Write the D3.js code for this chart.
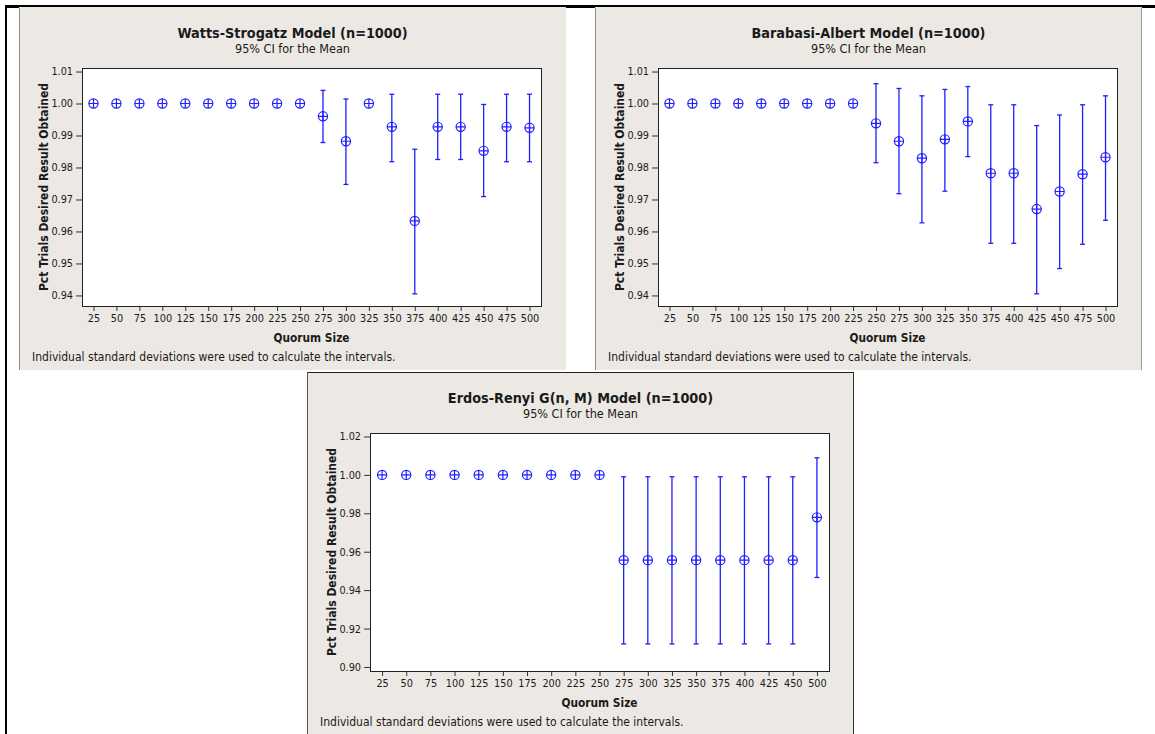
<!DOCTYPE html>
<html>
<head>
<meta charset="utf-8">
<script src="https://cdn.jsdelivr.net/npm/d3@7"></script>
<style>
body { margin: 0; background: #fff; }
svg { display: block; }
text { font-family: "DejaVu Sans Condensed", "DejaVu Sans", sans-serif; fill: #1a1a1a; }
</style>
</head>
<body>
<div id="chart"></div>
<script>
var width = 1155;
var height = 734;

// Quorum sizes on the x axis
var quorumTop = [25, 50, 75, 100, 125, 150, 175, 200, 225, 250, 275, 300, 325, 350, 375, 400, 425, 450, 475, 500];
var quorumER = [25, 50, 75, 100, 125, 150, 175, 200, 225, 250, 275, 300, 325, 350, 375, 400, 425, 450, 500];

// Watts-Strogatz
var wsMean = [1, 1, 1, 1, 1, 1, 1, 1, 1, 1, 0.9960, 0.9882, 1, 0.9927, 0.9633, 0.9927, 0.9927, 0.9852, 0.9927, 0.9924];
var wsLower = [null, null, null, null, null, null, null, null, null, null, 0.9878, 0.9747, null, 0.9818, 0.9405, 0.9825, 0.9825, 0.9709, 0.9818, 0.9818];
var wsUpper = [null, null, null, null, null, null, null, null, null, null, 1.0041, 1.0014, null, 1.0029, 0.9857, 1.0029, 1.0029, 0.9997, 1.0029, 1.0029];

// Barabasi-Albert
var baMean = [1, 1, 1, 1, 1, 1, 1, 1, 1, 0.9938, 0.9882, 0.9829, 0.9888, 0.9944, 0.9782, 0.9782, 0.9670, 0.9725, 0.9779, 0.9832];
var baLower = [null, null, null, null, null, null, null, null, null, 0.9815, 0.9718, 0.9627, 0.9726, 0.9834, 0.9563, 0.9563, 0.9405, 0.9484, 0.9560, 0.9635];
var baUpper = [null, null, null, null, null, null, null, null, null, 1.0062, 1.0047, 1.0024, 1.0044, 1.0053, 0.9996, 0.9996, 0.9931, 0.9964, 0.9996, 1.0024];

// Erdos-Renyi
var erMean = [1, 1, 1, 1, 1, 1, 1, 1, 1, 1, 0.9556, 0.9556, 0.9556, 0.9556, 0.9556, 0.9556, 0.9556, 0.9556, 0.9779];
var erLower = [null, null, null, null, null, null, null, null, null, null, 0.9120, 0.9120, 0.9120, 0.9120, 0.9120, 0.9120, 0.9120, 0.9120, 0.9466];
var erUpper = [null, null, null, null, null, null, null, null, null, null, 0.9990, 0.9990, 0.9990, 0.9990, 0.9990, 0.9990, 0.9990, 0.9990, 1.0089];

var yTicksTop = [0.94, 0.95, 0.96, 0.97, 0.98, 0.99, 1.00, 1.01];
var yTicksER = [0.90, 0.92, 0.94, 0.96, 0.98, 1.00, 1.02];

var titles = ["Watts-Strogatz Model (n=1000)", "Barabasi-Albert Model (n=1000)", "Erdos-Renyi G(n, M) Model (n=1000)"];
var subtitle = "95% CI for the Mean";
var xLabel = "Quorum Size";
var yLabel = "Pct Trials Desired Result Obtained";
var footnote = "Individual standard deviations were used to calculate the intervals.";

// panel box and the plot area inside it
var panelW = 547;
var panelH = 363;
var plot = { left: 63, top: 61, width: 459, height: 238 };
var blue = "#1f1fff";
var bg = "#ece9e4";

var svg = d3
.select("#chart")
.append("svg")
.attr("width", width)
.attr("height", height);

// page frame lines (table borders)
svg.append("rect").attr("x", 5).attr("y", 5).attr("width", width - 5).attr("height", 3).attr("fill", "#000");
svg.append("rect").attr("x", 5).attr("y", 5).attr("width", 2).attr("height", height - 5).attr("fill", "#000");

function drawPanel(px, py, title, quorum, mean, lower, upper, yDomain, yTicks, fmt) {
var g = svg.append("g").attr("transform", "translate(" + px + "," + py + ")");

g.append("rect")
.attr("width", panelW)
.attr("height", panelH)
.attr("fill", bg);

g.append("text")
.attr("x", panelW / 2)
.attr("y", 31)
.attr("text-anchor", "middle")
.attr("font-weight", "bold")
.attr("font-size", 14.3)
.text(title);

g.append("text")
.attr("x", panelW / 2)
.attr("y", 46)
.attr("text-anchor", "middle")
.attr("font-size", 12.5)
.text(subtitle);

var xScale = d3
.scalePoint()
.domain(quorum)
.range([plot.left, plot.left + plot.width])
.padding(0.5);

var yScale = d3
.scaleLinear()
.domain(yDomain)
.range([plot.top + plot.height, plot.top]);

g.append("rect")
.attr("x", plot.left)
.attr("y", plot.top)
.attr("width", plot.width)
.attr("height", plot.height)
.attr("fill", "#fff");

var xAxis = d3.axisBottom(xScale).tickSizeOuter(0).tickSize(5).tickPadding(3);
var yAxis = d3.axisLeft(yScale).tickValues(yTicks).tickFormat(d3.format(fmt)).tickSizeOuter(0).tickSize(6).tickPadding(3);

var gx = g.append("g")
.attr("transform", "translate(0," + (plot.top + plot.height) + ")")
.call(xAxis);
var gy = g.append("g")
.attr("transform", "translate(" + plot.left + ",0)")
.call(yAxis);

[gx, gy].forEach(function(a) {
a.select(".domain").remove();
a.selectAll("line").attr("stroke", "#333");
a.selectAll("text").attr("font-size", 10.8).attr("font-family", null).attr("fill", "#1a1a1a");
});

g.append("rect")
.attr("x", plot.left + 0.5)
.attr("y", plot.top + 0.5)
.attr("width", plot.width)
.attr("height", plot.height)
.attr("fill", "none")
.attr("stroke", "#222");

g.append("text")
.attr("x", plot.left + plot.width / 2)
.attr("y", plot.top + plot.height + 36)
.attr("text-anchor", "middle")
.attr("font-weight", "bold")
.attr("font-size", 11.8)
.text(xLabel);

g.append("text")
.attr("transform", "translate(29," + (plot.top + plot.height / 2) + ")rotate(-90)")
.attr("text-anchor", "middle")
.attr("font-weight", "bold")
.attr("font-size", 12)
.text(yLabel);

g.append("text")
.attr("x", 13)
.attr("y", 354)
.attr("font-size", 12)
.text(footnote);

var rows = quorum.map(function(q, i) {
return { q: q, mean: mean[i], lo: lower[i], hi: upper[i] };
});

var bars = rows.filter(function(d) { return d.lo !== null; });
var eb = g.append("g").attr("stroke", blue).attr("stroke-width", 1.3).attr("fill", "none");
eb.selectAll("line.bar")
.data(bars)
.enter()
.append("line")
.attr("x1", function(d) { return xScale(d.q); })
.attr("x2", function(d) { return xScale(d.q); })
.attr("y1", function(d) { return yScale(d.hi); })
.attr("y2", function(d) { return yScale(d.lo); });
["hi", "lo"].forEach(function(k) {
eb.selectAll("line.cap" + k)
.data(bars)
.enter()
.append("line")
.attr("x1", function(d) { return xScale(d.q) - 2.5; })
.attr("x2", function(d) { return xScale(d.q) + 2.5; })
.attr("y1", function(d) { return yScale(d[k]); })
.attr("y2", function(d) { return yScale(d[k]); });
});

var pts = g.append("g")
.selectAll("g")
.data(rows)
.enter()
.append("g")
.attr("transform", function(d) {
return "translate(" + xScale(d.q) + "," + yScale(d.mean) + ")";
})
.attr("stroke", blue)
.attr("stroke-width", 1.2)
.attr("fill", "none");
pts.append("circle").attr("r", 4.6);
pts.append("path").attr("d", "M-4.6,0H4.6M0,-4.6V4.6");

return g;
}

drawPanel(19, 7, titles[0], quorumTop, wsMean, wsLower, wsUpper, [0.9367, 1.0111], yTicksTop, ".2f");
drawPanel(595, 7, titles[1], quorumTop, baMean, baLower, baUpper, [0.9367, 1.0111], yTicksTop, ".2f");
drawPanel(307, 372, titles[2], quorumER, erMean, erLower, erUpper, [0.8979, 1.0218], yTicksER, ".2f");

// panel edges
svg.append("line").attr("x1", 19.5).attr("x2", 19.5).attr("y1", 8).attr("y2", 370).attr("stroke", "#8a8a8a");
svg.append("line").attr("x1", 595.5).attr("x2", 595.5).attr("y1", 8).attr("y2", 370).attr("stroke", "#8a8a8a");
svg.append("line").attr("x1", 1141.5).attr("x2", 1141.5).attr("y1", 8).attr("y2", 370).attr("stroke", "#9a9a9a");
svg.append("line").attr("x1", 307).attr("x2", 854).attr("y1", 372.5).attr("y2", 372.5).attr("stroke", "#222");
svg.append("line").attr("x1", 307.5).attr("x2", 307.5).attr("y1", 372).attr("y2", height).attr("stroke", "#555");
svg.append("line").attr("x1", 853.5).attr("x2", 853.5).attr("y1", 372).attr("y2", height).attr("stroke", "#333");
</script>
</body>
</html>
